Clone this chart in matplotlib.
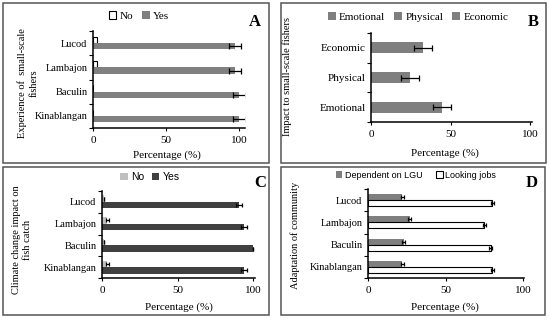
import numpy as np
import matplotlib.pyplot as plt
from matplotlib.patches import Rectangle, Patch

plt.rcParams['font.family'] = ['Liberation Serif', 'DejaVu Serif']

W, H = 550, 320

###########################################
# Data
###########################################

sites = ['Kinablangan', 'Baculin', 'Lambajon', 'Lucod']

# A: experience of small-scale fishers
a_yes = [100, 100, 97, 97]
a_yes_err = [4.5, 4.5, 4, 4]
a_no = [0, 0, 3, 3]

# B: impact to small-scale fishers
b_cats = ['Emotional', 'Physical', 'Economic']
b_vals = [44.5, 24.5, 32.5]
b_err = [5.5, 5.5, 5.5]

# C: climate change impact on fish catch
c_yes = [94, 100, 93.5, 90.5]
c_yes_err = [2, 0, 2, 2]
c_no = [3.5, 1, 3.5, 1]
c_no_err = [0.8, 0, 0.8, 0]

# D: adaptation of community
d_lgu = [22, 23, 27, 22]
d_lgu_err = [1, 1, 1, 1]
d_jobs = [80, 79, 75, 80]
d_jobs_err = [1, 1, 1, 1]


def px_axes(l, r, t, b):
    return fig.add_axes([l / W, 1 - b / H, (r - l) / W, (b - t) / H])


def px_text(x, y, s, **kw):
    fig.text(x / W, 1 - y / H, s, **kw)


def style(ax, n, xmax):
    ax.set_xlim(0, xmax)
    ax.set_ylim(-0.5, n - 0.5)
    ax.set_xticks([0, 50, 100])
    ax.set_yticks(np.arange(n))
    ax.set_yticks(np.arange(n + 1) - 0.5, minor=True)
    ax.tick_params(axis='y', which='major', length=0, labelsize=7.5, pad=4)
    ax.tick_params(axis='y', which='minor', length=3, width=0.8)
    ax.tick_params(axis='x', length=2.5, width=0.8, labelsize=8, pad=3)
    for s in ['top', 'right']:
        ax.spines[s].set_visible(False)
    for s in ['left', 'bottom']:
        ax.spines[s].set_linewidth(1.1)


fig = plt.figure(figsize=(5.5, 3.2), dpi=100)

# panel frames
for (l, t, r, b) in [(3, 3, 269, 163), (281, 3, 546, 163),
                     (3, 167, 269, 315), (281, 167, 545, 315)]:
    fig.patches.append(Rectangle((l / W, 1 - b / H), (r - l) / W, (b - t) / H,
                                 transform=fig.transFigure, fill=False,
                                 edgecolor='#555555', linewidth=1.1))

ekw = dict(ecolor='black', capsize=2, elinewidth=0.9, capthick=0.9)
y4 = np.arange(4)

###########################################
# A
###########################################
ax = px_axes(93, 245, 31, 128)
h = 0.26
ax.barh(y4 + h / 2, a_no, height=h, color='white', edgecolor='black',
        linewidth=0.8, label='No')
ax.barh(y4 - h / 2, a_yes, height=h, color='#808080', xerr=a_yes_err,
        error_kw=ekw, label='Yes')
ax.set_yticklabels(sites)
style(ax, 4, 104)
fig.legend(*ax.get_legend_handles_labels(), loc='center', ncol=2,
           bbox_to_anchor=(139 / W, 1 - 16 / H), frameon=False, fontsize=8,
           handlelength=0.7, handleheight=0.7, handletextpad=0.3,
           columnspacing=0.8)
px_text(28, 83, 'Experience of  small-scale\nfishers', rotation=90,
        ha='center', va='center', fontsize=7.5, linespacing=1.3)
px_text(167, 155, 'Percentage (%)', ha='center', va='center', fontsize=8)
px_text(255, 22, 'A', ha='center', va='center', fontsize=12,
        fontweight='bold')

###########################################
# B
###########################################
ax = px_axes(371, 532, 33, 122)
y3 = np.arange(3)
ax.barh(y3, b_vals, height=0.38, color='#7f7f7f', xerr=b_err, error_kw=ekw)
ax.set_yticklabels(b_cats)
style(ax, 3, 101)
ax.tick_params(axis='y', which='major', labelsize=8)
hs = [Patch(facecolor='#7f7f7f') for _ in b_cats]
fig.legend(hs, b_cats, loc='center', ncol=3,
           bbox_to_anchor=(418 / W, 1 - 17 / H), frameon=False, fontsize=8,
           handlelength=0.7, handleheight=0.7, handletextpad=0.3,
           columnspacing=0.8)
px_text(287, 76, 'Impact to small-scale fishers', rotation=90,
        ha='center', va='center', fontsize=7.5)
px_text(445, 153, 'Percentage (%)', ha='center', va='center', fontsize=8)
px_text(533, 22, 'B', ha='center', va='center', fontsize=12,
        fontweight='bold')

###########################################
# C
###########################################
ax = px_axes(102, 255, 191, 278)
h = 0.3
ax.barh(y4 + h / 2, c_no, height=h, color='#bfbfbf', xerr=c_no_err,
        error_kw=dict(ekw, capsize=1.5), label='No')
ax.barh(y4 - h / 2, c_yes, height=h, color='#404040', xerr=c_yes_err,
        error_kw=dict(ekw, capsize=1.5), label='Yes')
ax.set_yticklabels(sites)
style(ax, 4, 101)
fig.legend(*ax.get_legend_handles_labels(), loc='center', ncol=2,
           bbox_to_anchor=(150 / W, 1 - 177 / H), frameon=False,
           prop={'family': 'Liberation Sans', 'size': 7.5},
           handlelength=0.7, handleheight=0.7, handletextpad=0.3,
           columnspacing=0.8)
px_text(22, 240, 'Climate change impact on\nfish catch', rotation=90,
        ha='center', va='center', fontsize=7.5, linespacing=1.3)
px_text(179, 307, 'Percentage (%)', ha='center', va='center', fontsize=8)
px_text(260, 183, 'C', ha='center', va='center', fontsize=12,
        fontweight='bold')

###########################################
# D
###########################################
ax = px_axes(368, 524, 189, 278)
h = 0.27
ax.barh(y4 + h / 2, d_lgu, height=h, color='#7f7f7f', xerr=d_lgu_err,
        error_kw=dict(ekw, capsize=1.2), label='Dependent on LGU')
ax.barh(y4 - h / 2, d_jobs, height=h, color='white', edgecolor='black',
        linewidth=0.8, xerr=d_jobs_err, error_kw=dict(ekw, capsize=1.2),
        label='Looking jobs')
ax.set_yticklabels(sites)
style(ax, 4, 100.5)
fig.legend(*ax.get_legend_handles_labels(), loc='center', ncol=2,
           bbox_to_anchor=(416 / W, 1 - 175 / H), frameon=False,
           prop={'family': 'Liberation Sans', 'size': 6.5},
           handlelength=0.7, handleheight=0.7, handletextpad=0.3,
           columnspacing=1.5)
px_text(295, 235, 'Adaptation of community', rotation=90,
        ha='center', va='center', fontsize=7.5)
px_text(445, 307, 'Percentage (%)', ha='center', va='center', fontsize=8)
px_text(532, 183, 'D', ha='center', va='center', fontsize=12,
        fontweight='bold')

fig.savefig('out.png', dpi=100)
